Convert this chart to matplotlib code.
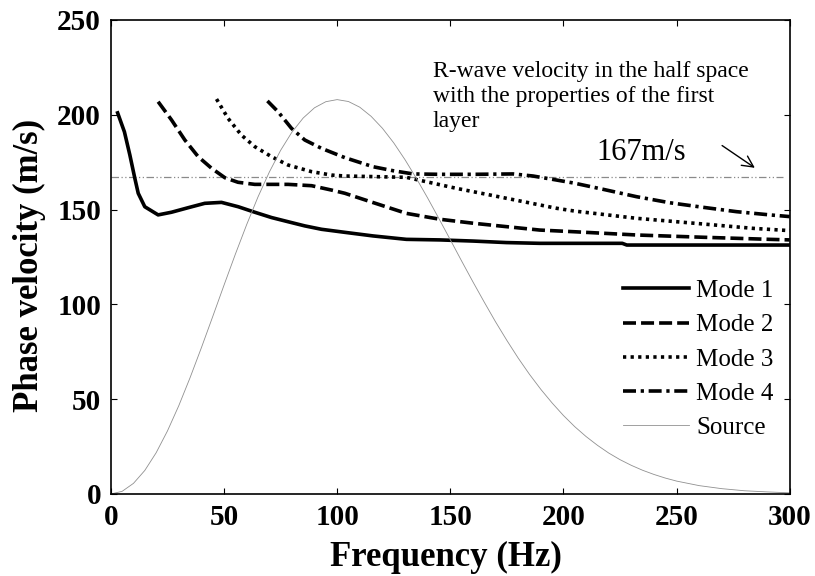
import numpy as np
import matplotlib
matplotlib.use("Agg")
import matplotlib.pyplot as plt

# Dados
# Modo 1
f1 = [3, 6, 8.4, 10.6, 12.1, 15, 20.9, 26.8, 34.2, 41.5, 48.9, 56.3, 63.6, 71, 78.3, 85.7, 93.1,
      103.4, 115.9, 130.6, 145.4, 160.1, 174.8, 189.5, 207.2, 226, 228, 300]
v1 = [201, 191, 178.8, 166.5, 158.6, 151.5, 147.2, 148.6, 151, 153.3, 153.8, 151.5, 148.6, 145.8,
      143.6, 141.4, 139.6, 138, 136.1, 134.3, 134, 133.4, 132.6, 132.2, 132.2, 132.2, 131.3, 131.3]

# Modo 2
f2 = [20.9, 26.8, 32.7, 38.6, 44.5, 50.4, 56.2, 63.6, 78.3, 88.7, 97.5, 103.4, 115.9, 130.6, 145.4,
      160.1, 174.8, 189.5, 205, 232.3, 261.7, 291.2, 300]
v2 = [206.9, 197.3, 186.7, 177.9, 171.8, 166.8, 164.4, 163.3, 163.3, 162.6, 160.3, 158.6, 153.7,
      148, 144.9, 142.8, 141, 139.2, 138.3, 136.6, 135.4, 134.3, 134]

# Modo 3
f3 = [46.7, 51.8, 57.7, 63.6, 71, 78.3, 88.7, 97.5, 103.4, 115.9, 130.6, 139.4, 152.7, 167.5,
      182.2, 196.9, 205, 232.3, 261.7, 283.8, 300]
v3 = [208.3, 198.1, 189.3, 183.2, 177.9, 173.5, 170, 168.2, 167.7, 167.4, 167, 164.7, 161.2, 157.7,
      154.2, 150.7, 149.2, 145.4, 142.4, 140.1, 138.9]

# Modo 4
f4 = [69.2, 73.9, 79.8, 85.7, 93.1, 103.4, 115.9, 124.7, 133.6, 145.4, 160.1, 177.8, 186.6, 196.9,
      205, 217.5, 232.3, 247, 261.7, 276.5, 291.2, 300]
v4 = [207.3, 201.6, 192.9, 186.7, 182.3, 177.4, 172.6, 170.5, 168.8, 168.6, 168.6, 168.8, 167.7,
      165.6, 163.9, 160.7, 156.8, 153.6, 151.2, 148.9, 147.2, 146.3]

# Espectro da fonte
f_src = [0, 5, 10, 15, 20, 25, 30, 35, 40, 45, 50, 55, 60, 65, 70, 75, 80, 85, 90, 95, 100,
         105, 110, 115, 120, 125, 130, 135, 140, 145, 150, 155, 160, 165, 170, 175, 180, 185,
         190, 195, 200, 205, 210, 215, 220, 225, 230, 235, 240, 245, 250, 260, 270, 280, 290, 300]
v_src = [0, 1.4, 5.6, 12.4, 21.7, 33.2, 46.5, 61.3, 77.1, 93.5, 110.1, 126.4, 142.0, 156.6,
         169.7, 181.2, 190.8, 198.3, 203.7, 206.9, 208, 207.0, 204.0, 199.2, 192.9, 185.2,
         176.3, 166.5, 156.1, 145.2, 134.1, 122.9, 111.9, 101.2, 90.8, 81.0, 71.7, 63.1, 55.2,
         48.0, 41.4, 35.5, 30.3, 25.7, 21.6, 18.1, 15.1, 12.5, 10.3, 8.4, 6.8, 4.4, 2.8, 1.7,
         1.1, 0.6]

# Velocidade da onda R no semi-espaço
v_r = 167

fig = plt.figure(figsize=(8.15, 5.76), dpi=100)
ax = fig.add_axes([0.136, 0.1424, 0.833, 0.8229])

serif = "Liberation Serif"

# Linha horizontal de referência
ax.plot([0, 297], [v_r, v_r], color="#8a8a8a", lw=0.9, dashes=(6, 2, 1, 2, 1, 2))

# Curvas dos modos
lw = 2.6
ax.plot(f1, v1, color="black", lw=lw, label="Mode 1")
ax.plot(f2, v2, color="black", lw=lw, dashes=(3.6, 1.4), label="Mode 2")
ax.plot(f3, v3, color="black", lw=lw, dashes=(0.9, 1.2), label="Mode 3")
ax.plot(f4, v4, color="black", lw=lw, dashes=(3.6, 1.3, 0.9, 1.3), label="Mode 4")
ax.plot(f_src, v_src, color="#909090", lw=0.6, label="Source")

ax.set_xlim(0, 300)
ax.set_ylim(0, 250)
ax.set_xticks([0, 50, 100, 150, 200, 250, 300])
ax.set_yticks([0, 50, 100, 150, 200, 250])

# Eixos e ticks
for s in ax.spines.values():
    s.set_linewidth(1.2)
ax.tick_params(direction="in", length=4, width=0.8, top=True, right=True, pad=7)
for lab in ax.get_xticklabels() + ax.get_yticklabels():
    lab.set_fontfamily(serif)
    lab.set_fontweight("bold")
    lab.set_fontsize(21)

ax.set_xlabel("Frequency (Hz)", fontfamily=serif, fontweight="bold", fontsize=25)
ax.set_ylabel("Phase velocity (m/s)", fontfamily=serif, fontweight="bold", fontsize=25)
ax.xaxis.set_label_coords(0.493, -0.1)
ax.yaxis.set_label_coords(-0.095, 0.483)

# Texto de anotação
ax.text(142.3, 228.6, "R-wave velocity in the half space\nwith the properties of the first\nlayer",
        fontfamily=serif, fontsize=17, va="top", ha="left", linespacing=1.25)
ax.text(214.7, 176, "167m/s", fontfamily=serif, fontsize=22, va="baseline", ha="left")
ax.annotate("", xy=(285.6, 171.2), xytext=(269.1, 184.6),
            arrowprops=dict(arrowstyle="->", color="black", lw=1.0, mutation_scale=20))

# Legenda
leg = ax.legend(loc="upper left", bbox_to_anchor=(0.754, 0.452), frameon=False,
                prop={"family": serif, "size": 18}, handlelength=2.65, handletextpad=0.3,
                labelspacing=0.47, borderpad=0, borderaxespad=0)

plt.savefig("out.png", dpi=100)
